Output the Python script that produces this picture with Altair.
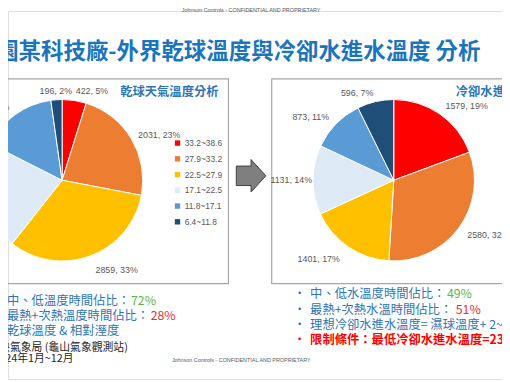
import altair as alt
import pandas as pd

# ---------------- data ----------------
left_bins = ["33.2~38.6", "27.9~33.2", "22.5~27.9", "17.1~22.5", "11.8~17.1", "6.4~11.8"]
left_hours = [422, 2031, 2859, 1912, 1340, 196]
left_pct = [5, 23, 33, 22, 15, 2]

right_hours = [1579, 2580, 1401, 1131, 873, 596]
right_pct = [19, 32, 17, 14, 11, 7]

# ---------------- styles / layout ----------------
palette = ["#FF0000", "#ED7D31", "#FFC000", "#DEEBF7", "#5B9BD5", "#1F4E79"]
left_label_r = [92, 90, 97, 92, 92, 91]
left_label_align = ["left", "left", "left", "right", "right", "center"]
right_label_r = [92, 93, 97, 83, 92, 91]
right_label_align = ["left", "left", "right", "right", "right", "right"]

CJK = "Noto Sans CJK TC"
LAT = "Liberation Sans"
BLUE = "#2E75B6"
TITLE_BLUE = "#1B75BC"
GREEN = "#5DB54F"
RED = "#E8302E"
GRAY = "#595959"

W, H = 502, 374
R = 82

dummy = pd.DataFrame({"a": [0]})


def txt(text, x, y, size, color, align="left", weight="normal", font=CJK):
    return alt.Chart(pd.DataFrame({"t": [text]})).mark_text(
        align=align, baseline="middle", fontSize=size, color=color,
        fontWeight=weight, font=font
    ).encode(x=alt.value(x), y=alt.value(y), text="t:N")


def pie_layers(hours, pct, radii, aligns, cx, cy, color_enc, extra=None):
    df = pd.DataFrame({
        "hours": hours,
        "idx": list(range(len(hours))),
        "label": [f"{h}, {p}%" for h, p in zip(hours, pct)],
        "r": radii,
        "al": aligns,
    })
    if extra:
        for k, v in extra.items():
            df[k] = v
    arc = alt.Chart(df).mark_arc(outerRadius=R, stroke="white", strokeWidth=1).encode(
        theta=alt.Theta("hours:Q", stack=True),
        order=alt.Order("idx:Q", sort="ascending"),
        x=alt.value(cx), y=alt.value(cy), color=color_enc
    )
    layers = [arc]
    for a in ["left", "right", "center"]:
        layers.append(
            alt.Chart(df).transform_window(
                cum="sum(hours)",
                sort=[alt.SortField("idx", order="ascending")],
                frame=[None, 0],
            ).transform_joinaggregate(
                total="sum(hours)"
            ).transform_calculate(
                mid="(datum.cum - datum.hours / 2) / datum.total * 2 * PI",
            ).transform_calculate(
                px=f"{cx} + datum.r * sin(datum.mid)",
                py=f"{cy} - datum.r * cos(datum.mid)",
            ).transform_filter(
                f"datum.al == '{a}'"
            ).mark_text(
                align=a, baseline="middle", font=LAT, fontSize=9, color=GRAY
            ).encode(
                x=alt.X("px:Q", scale=None),
                y=alt.Y("py:Q", scale=None),
                text="label:N",
            )
        )
    return layers


left_color = alt.Color(
    "bin:N",
    scale=alt.Scale(domain=left_bins, range=palette),
    legend=alt.Legend(
        orient="none", legendX=168, legendY=130, title=None,
        symbolType="square", symbolSize=30, symbolStrokeWidth=0,
        labelFont=LAT, labelFontSize=8.5, labelColor=GRAY,
        rowPadding=7, labelOffset=3,
    ),
)
right_color = alt.Color("col:N", scale=None)

left_layers = pie_layers(left_hours, left_pct, left_label_r, left_label_align, 55, 172,
                         left_color, extra={"bin": left_bins})
right_layers = pie_layers(right_hours, right_pct, right_label_r, right_label_align, 392, 172,
                          right_color, extra={"col": palette})

# boxes
left_box = alt.Chart(dummy).mark_rect(fillOpacity=0, stroke="#A6A6A6", strokeWidth=1.2).encode(
    x=alt.value(-20), x2=alt.value(224), y=alt.value(69), y2=alt.value(277))
right_box = alt.Chart(dummy).mark_rect(fillOpacity=0, stroke="#A6A6A6", strokeWidth=1.2).encode(
    x=alt.value(268), x2=alt.value(530), y=alt.value(69), y2=alt.value(277))

# arrow
arrow_path = "M -0.91 -0.6 L 0 -0.6 L 0 -1 L 0.91 0 L 0 1 L 0 0.6 L -0.91 0.6 Z"
arrow = alt.Chart(dummy).mark_point(
    shape=arrow_path, size=1089, filled=True, fill="#7F7F7F", opacity=1,
    stroke="#3A3F44", strokeWidth=1
).encode(x=alt.value(247), y=alt.value(167.5))

texts = [
    txt("Johnson Controls - CONFIDENTIAL AND PROPRIETARY", 247, -1, 5.5, GRAY, align="center", font=LAT),
    txt("Johnson Controls - CONFIDENTIAL AND PROPRIETARY", 237, 355, 5.5, GRAY, align="center", font=LAT),
    txt("園某科技廠-外界乾球溫度與冷卻水進水溫度 分析", -12, 42, 22.8, TITLE_BLUE, weight="bold"),
    txt("乾球天氣溫度分析", 114, 82, 12.5, BLUE, weight="bold"),
    txt("冷卻水進水溫度分析", 455, 82, 12.5, BLUE, weight="bold"),
    # left notes
    txt("中、低溫度時間佔比：", -1, 295, 12.5, BLUE),
    txt("72%", 125, 295, 12.5, GREEN),
    txt("最熱+次熱溫度時間佔比：", -1, 310, 12.5, BLUE),
    txt("28%", 145, 310, 12.5, RED),
    txt("乾球溫度 & 相對溼度", -1, 325, 12.5, BLUE),
    txt("中央氣象局 (龜山氣象觀測站)", -20, 343, 11, "#262626"),
    txt("2024年1月~12月", -15, 354, 11, "#262626"),
    # right notes
    txt("•", 290, 288, 12.5, BLUE),
    txt("•", 290, 304, 12.5, BLUE),
    txt("•", 290, 319, 12.5, BLUE),
    txt("•", 290, 334, 12.5, "#FF0000"),
    txt("中、低水溫度時間佔比：", 307, 288, 12.5, BLUE),
    txt("49%", 446, 288, 12.5, GREEN),
    txt("最熱+次熱水溫時間佔比：", 307, 304, 12.5, BLUE),
    txt("51%", 455, 304, 12.5, RED),
    txt("理想冷卻水進水溫度= 濕球溫度+ 2~3°C", 307, 319, 12.5, BLUE),
    txt("限制條件：最低冷卻水進水溫度=23°C", 307, 334, 12.5, "#FF0000", weight="bold"),
]

chart = alt.layer(
    left_box, right_box, *left_layers, *right_layers, arrow, *texts
).resolve_scale(color="independent", theta="independent").properties(
    width=W, height=H, padding=0,
    autosize=alt.AutoSizeParams(type="none"),
).configure_view(stroke=None).configure(background="white")

chart.save("out.html", embed_options={"renderer": "svg", "actions": False})
